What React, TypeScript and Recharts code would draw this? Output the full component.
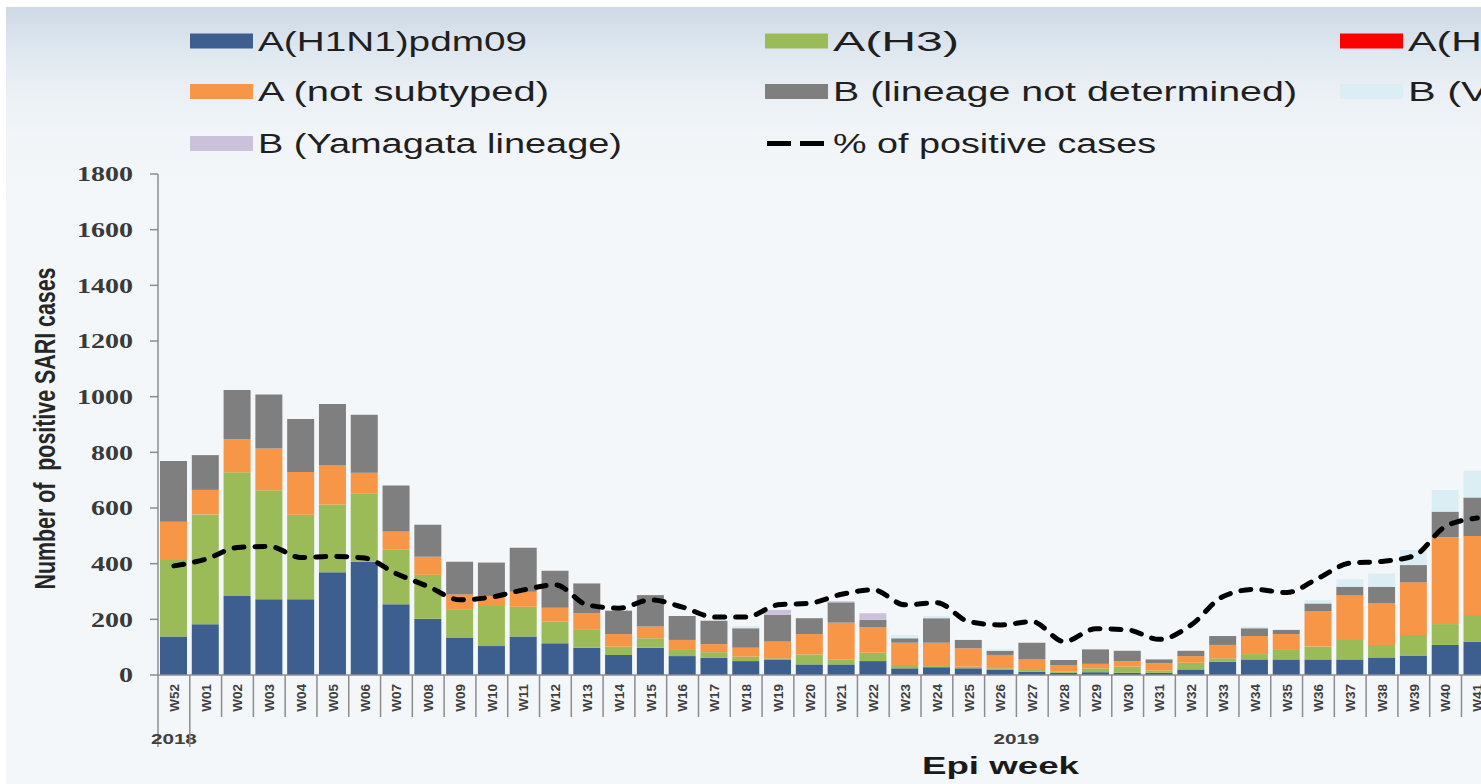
import React from 'react';
import { ComposedChart, Bar, Line, XAxis, YAxis, Legend } from 'recharts';

// ---------- categories ----------
const years = ['2018', '2019'];
const weeks2018 = ['W52'];
const weeks2019 = [
  'W01', 'W02', 'W03', 'W04', 'W05', 'W06', 'W07', 'W08', 'W09', 'W10',
  'W11', 'W12', 'W13', 'W14', 'W15', 'W16', 'W17', 'W18', 'W19', 'W20',
  'W21', 'W22', 'W23', 'W24', 'W25', 'W26', 'W27', 'W28', 'W29', 'W30',
  'W31', 'W32', 'W33', 'W34', 'W35', 'W36', 'W37', 'W38', 'W39', 'W40',
  'W41', 'W42', 'W43', 'W44', 'W45', 'W46', 'W47', 'W48', 'W49', 'W50',
  'W51', 'W52',
];

// ---------- series values (2018-W52 .. 2019-W41) ----------
const h1n1 = [138, 182, 284, 272, 272, 369, 407, 254, 202, 135, 104, 138, 114, 98, 72, 98, 68, 62, 50, 56, 38, 38, 50, 24, 28, 24, 18, 12, 8, 10, 8, 8, 20, 48, 56, 56, 56, 56, 63, 70, 108, 120];
const h3 = [275, 395, 444, 392, 304, 244, 246, 198, 158, 99, 144, 107, 78, 64, 30, 34, 22, 20, 16, 4, 36, 18, 30, 12, 4, 6, 6, 6, 4, 14, 22, 8, 24, 12, 19, 34, 46, 70, 45, 74, 75, 96];
const h5 = [0, 0, 0, 0, 0, 0, 0, 0, 0, 0, 0, 0, 0, 0, 0, 0, 0, 0, 0, 0, 0, 0, 0, 0, 0, 0, 0, 0, 0, 0, 0, 0, 0, 0, 0, 0, 0, 0, 0, 0, 0, 0];
const aNotSubtyped = [138, 88, 119, 150, 153, 140, 74, 64, 65, 55, 36, 54, 50, 60, 45, 42, 36, 29, 32, 60, 73, 132, 91, 80, 84, 66, 48, 38, 24, 16, 20, 26, 24, 48, 65, 57, 128, 161, 149, 189, 312, 283];
const bNotDetermined = [218, 125, 177, 194, 191, 221, 208, 165, 115, 118, 120, 158, 133, 107, 84, 113, 86, 84, 70, 96, 57, 73, 27, 16, 88, 30, 15, 60, 18, 52, 37, 14, 19, 32, 28, 15, 27, 30, 60, 62, 92, 139];
const bVictoria = [0, 0, 0, 0, 0, 0, 0, 0, 0, 0, 0, 0, 0, 0, 0, 0, 0, 0, 8, 0, 0, 0, 0, 12, 8, 0, 6, 0, 0, 0, 0, 0, 0, 0, 6, 0, 12, 27, 48, 54, 78, 96];
const bYamagata = [0, 0, 0, 0, 0, 0, 0, 0, 0, 0, 0, 0, 0, 0, 0, 0, 0, 0, 0, 18, 0, 4, 24, 0, 0, 0, 0, 0, 0, 0, 0, 0, 0, 0, 0, 0, 0, 0, 0, 0, 0, 0];
const pctPositive = [19.6, 20.8, 22.9, 23.1, 21.1, 21.3, 21.0, 18.2, 15.9, 13.5, 14.0, 15.3, 16.2, 12.6, 12.0, 13.5, 12.2, 10.4, 10.4, 12.6, 12.9, 14.5, 15.3, 12.6, 13.0, 9.6, 9.0, 9.6, 6.0, 8.3, 8.1, 6.4, 9.0, 14.1, 15.4, 14.8, 17.4, 20.1, 20.4, 21.4, 26.7, 28.2];

const yTicks = [0, 200, 400, 600, 800, 1000, 1200, 1400, 1600, 1800];

const SERIES = [
  { key: 'h1n1', name: 'A(H1N1)pdm09', color: '#3c5f8f', values: h1n1 },
  { key: 'h3', name: 'A(H3)', color: '#9bbb59', values: h3 },
  { key: 'h5', name: 'A(H5)', color: '#ff0000', values: h5 },
  { key: 'aNs', name: 'A (not subtyped)', color: '#f79646', values: aNotSubtyped },
  { key: 'bNd', name: 'B (lineage not determined)', color: '#7f7f7f', values: bNotDetermined },
  { key: 'bVic', name: 'B (Victoria lineage)', color: '#daeef3', values: bVictoria },
  { key: 'bYam', name: 'B (Yamagata lineage)', color: '#ccc1da', values: bYamagata },
];
const LINE_NAME = '% of positive cases';

const categories = [
  ...weeks2018.map((w) => ({ year: years[0], week: w })),
  ...weeks2019.map((w) => ({ year: years[1], week: w })),
];

const rows = categories.map((c, i) => {
  const r: any = { key: `${c.year}-${c.week}`, year: c.year, week: c.week };
  SERIES.forEach((s) => {
    if (i < s.values.length) r[s.key] = s.values[i];
  });
  if (i < pctPositive.length) r.pct = pctPositive[i];
  return r;
});

// ---------- layout ----------
const CHART_W = 1850;
const CHART_H = 784;
const AXIS_COLOR = '#8c8c8c';
const SANS = '"Liberation Sans", Arial, sans-serif';
const SERIF = '"Liberation Serif", "Times New Roman", serif';

const CategoryTick = (props: any) => {
  const { x, y, payload } = props;
  const i = props.index ?? payload?.index ?? 0;
  let band = props.width && props.visibleTicksCount ? props.width / props.visibleTicksCount : 31.79;
  if (!(band > 20 && band < 45)) band = 31.79;
  const row = rows[i];
  if (!row) return null;
  const left = x - band / 2;
  const groupStart = i === 0 || rows[i - 1].year !== row.year;
  const count = rows.filter((r) => r.year === row.year).length;
  const isLast = i === rows.length - 1;
  return (
    <g>
      <line x1={left} x2={left} y1={y} y2={y + (groupStart ? 72 : 42)} stroke={AXIS_COLOR} strokeWidth={1.5} />
      {isLast && (
        <line x1={x + band / 2} x2={x + band / 2} y1={y} y2={y + 72} stroke={AXIS_COLOR} strokeWidth={1.5} />
      )}
      <text
        transform={`translate(${x},${y + 9}) rotate(-90)`}
        textAnchor="end"
        dy="0.36em"
        fontSize={13.5}
        fontWeight="bold"
        fontFamily={SANS}
        fill="#404040"
      >
        {row.week}
      </text>
      {groupStart && (
        <text
          x={left + (count * band) / 2}
          y={y + 69}
          textAnchor="middle"
          fontSize={14}
          fontWeight="bold"
          fontFamily={SANS}
          fill="#404040"
          textLength={46}
          lengthAdjust="spacingAndGlyphs"
        >
          {row.year}
        </text>
      )}
    </g>
  );
};

const ValueTick = (props: any) => {
  const { x, y, payload } = props;
  const s = String(payload.value);
  return (
    <text
      x={x}
      y={y}
      dy="0.35em"
      textAnchor="end"
      fontSize={21}
      fontWeight="bold"
      fontFamily={SERIF}
      fill="#3a3a3a"
      textLength={s.length * 14}
      lengthAdjust="spacingAndGlyphs"
    >
      {s}
    </text>
  );
};

const YTitle = (props: any) => {
  const vb = props.viewBox || { x: 0, y: 174, width: 158, height: 501 };
  const cy = vb.y + vb.height / 2 + 4;
  return (
    <text
      transform={`translate(55,${cy}) rotate(-90)`}
      textAnchor="middle"
      fontSize={30}
      fontWeight="bold"
      fontFamily={SANS}
      fill="#262626"
      textLength={322}
      lengthAdjust="spacingAndGlyphs"
      xmlSpace="preserve"
    >
      {'Number of  positive SARI cases'}
    </text>
  );
};

const XTitle = (props: any) => {
  const vb = props.viewBox || { x: 158, y: 675, width: 1685, height: 109 };
  return (
    <text
      x={vb.x + vb.width / 2}
      y={vb.y + 99}
      textAnchor="middle"
      fontSize={24}
      fontWeight="bold"
      fontFamily={SANS}
      fill="#1a1a1a"
      textLength={157}
      lengthAdjust="spacingAndGlyphs"
    >
      Epi week
    </text>
  );
};

// legend layout: 3 columns x 3 rows
const LEG_COLS = [190, 765, 1340];
const LEG_ROWS = [41, 91.5, 143.5];
const LEG_TEXT_W: Record<string, number> = {
  'A(H1N1)pdm09': 269,
  'A(H3)': 126,
  'A(H5)': 112,
  'A (not subtyped)': 291,
  'B (lineage not determined)': 464,
  'B (Victoria lineage)': 350,
  'B (Yamagata lineage)': 364,
  [LINE_NAME]: 323,
};

const LegendContent = () => {
  const items = [
    ...SERIES.map((s) => ({ name: s.name, color: s.color, line: false })),
    { name: LINE_NAME, color: '#000', line: true },
  ];
  return (
    <svg width={1481} height={165} style={{ display: 'block' }}>
      {items.map((it, k) => {
        const cx = LEG_COLS[k % 3];
        const cy = LEG_ROWS[Math.floor(k / 3)];
        return (
          <g key={it.name}>
            {it.line ? (
              <line x1={cx + 2} x2={cx + 63} y1={cy} y2={cy} stroke="#000" strokeWidth={5} strokeDasharray="24 9" />
            ) : (
              <rect x={cx} y={cy - 7.5} width={63} height={15} fill={it.color} />
            )}
            <text
              x={cx + 68}
              y={cy + 9.5}
              fontSize={27}
              fontFamily={SANS}
              fill="#1f1f1f"
              textLength={LEG_TEXT_W[it.name]}
              lengthAdjust="spacingAndGlyphs"
            >
              {it.name}
            </text>
          </g>
        );
      })}
    </svg>
  );
};

export default function App() {
  return (
    <div
      style={{
        position: 'absolute',
        left: 0,
        top: 0,
        width: 1481,
        height: 784,
        overflow: 'hidden',
        background: '#ffffff',
      }}
    >
      <div
        style={{
          position: 'absolute',
          left: 6,
          top: 7,
          right: 0,
          bottom: 0,
          background:
            'linear-gradient(180deg, #cdd9e5 0px, #dce5ee 35px, #e9eff4 80px, #f1f5f8 130px, #f4f7fa 200px, #f4f7fa 100%)',
        }}
      />
      <div style={{ position: 'absolute', left: 0, top: 0 }}>
        <ComposedChart
          width={CHART_W}
          height={CHART_H}
          data={rows}
          margin={{ top: 174, right: 7, bottom: 0, left: 0 }}
          barSize={27}
        >
          <XAxis
            dataKey="key"
            interval={0}
            height={109}
            tickSize={0}
            tickMargin={0}
            tickLine={false}
            axisLine={{ stroke: AXIS_COLOR, strokeWidth: 1.5 }}
            tick={<CategoryTick />}
            label={{ content: <XTitle /> }}
          />
          <YAxis
            yAxisId="left"
            width={158}
            domain={[0, 1800]}
            ticks={yTicks}
            interval={0}
            tickSize={8}
            tickMargin={17}
            tickLine={{ stroke: AXIS_COLOR, strokeWidth: 1.5 }}
            axisLine={{ stroke: AXIS_COLOR, strokeWidth: 1.5 }}
            tick={<ValueTick />}
            label={{ content: <YTitle /> }}
          />
          <YAxis yAxisId="pct" orientation="right" hide domain={[0, 90]} />
          <Legend
            layout="horizontal"
            verticalAlign="middle"
            align="center"
            wrapperStyle={{ top: 0, left: 0, width: 1481, height: 165 }}
            content={<LegendContent />}
          />
          {SERIES.map((s) => (
            <Bar
              key={s.key}
              dataKey={s.key}
              name={s.name}
              stackId="cases"
              yAxisId="left"
              fill={s.color}
              isAnimationActive={false}
            />
          ))}
          <Line
            dataKey="pct"
            name={LINE_NAME}
            yAxisId="pct"
            type="monotone"
            stroke="#000000"
            strokeWidth={5}
            strokeDasharray="10 11"
            strokeLinecap="round"
            dot={false}
            activeDot={false}
            isAnimationActive={false}
          />
        </ComposedChart>
      </div>
    </div>
  );
}
